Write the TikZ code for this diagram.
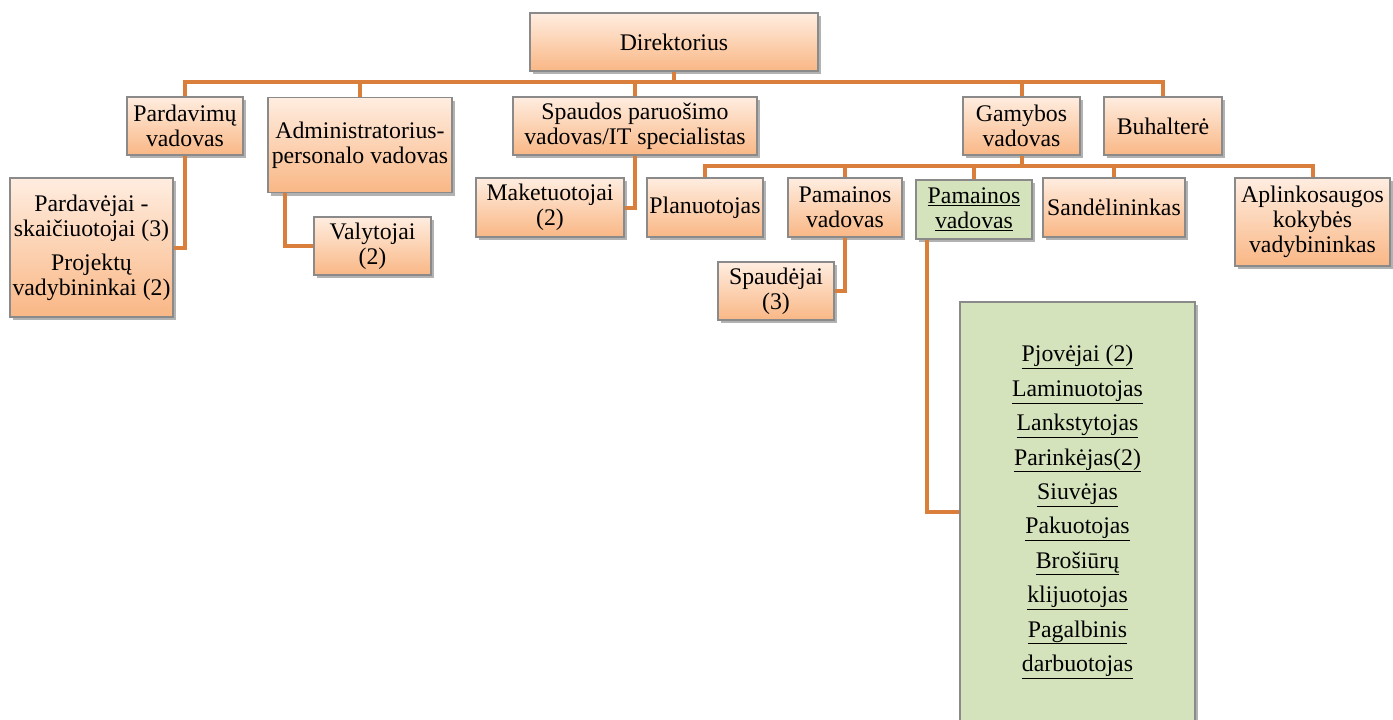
\documentclass[tikz,border=0pt]{standalone}
\usepackage{fontspec}
\setmainfont{Liberation Serif}
\usepackage{tikz}
\usetikzlibrary{shadows}
\usepackage{xcolor}

\definecolor{oTop}{HTML}{FFEDE0}
\definecolor{oBot}{HTML}{F9B785}
\definecolor{gFill}{HTML}{D5E3BC}
\definecolor{lineOr}{HTML}{DA7F3B}
\definecolor{frameGr}{HTML}{8A8A8A}

\begin{document}
\begin{tikzpicture}[x=1pt, y=-1pt]
        % ================= styles =================
        \tikzset{
            % orange box
            obox/.style={draw=frameGr, line width=1.2pt, top color=oTop, bottom color=oBot, align=center, inner sep=1pt,
                font=\fontsize{23.8}{25}\selectfont,
                drop shadow={shadow xshift=3pt, shadow yshift=-3pt, opacity=0.3, fill=black}},
            % green box
            gbox/.style={obox, top color=gFill, bottom color=gFill},
            % connector
            link/.style={line width=4pt, lineOr}
        }
        \useasboundingbox (0,0) rectangle (1393,720);
        \clip (0,0) rectangle (1393,720);

        % ================= top level =================
        \node[obox, minimum width=288pt, minimum height=58pt] (dir) at (674,42) {Direktorius};

        \node[obox, minimum width=116pt, minimum height=58pt] (pard) at (185,126) {Pardavimų\\vadovas};
        \node[obox, minimum width=184pt, minimum height=95pt] (adm) at (360,145) {Administratorius-\\personalo vadovas};
        \node[obox, minimum width=244pt, minimum height=58pt] (spa) at (635,126) {Spaudos paruošimo\\vadovas/IT specialistas};
        \node[obox, minimum width=117pt, minimum height=58pt] (gam) at (1021.5,126) {Gamybos\\vadovas};
        \node[obox, minimum width=118pt, minimum height=58pt] (buh) at (1163,126) {Buhalterė};

        % ================= children =================
        \node[obox, minimum width=163pt, minimum height=139pt] (pdv) at (91.5,247.5) {Pardavėjai -\\skaičiuotojai (3)\\[9pt]Projektų\\vadybininkai (2)};
        \node[obox, minimum width=117pt, minimum height=58pt] (val) at (372.5,246) {Valytojai\\(2)};
        \node[obox, minimum width=148pt, minimum height=59pt] (mak) at (550,207.5) {Maketuotojai\\(2)};

        % under Gamybos vadovas
        \node[obox, minimum width=116pt, minimum height=59pt] (plan) at (705,207.5) {Planuotojas};
        \node[obox, minimum width=114pt, minimum height=59pt] (pam1) at (845,207.5) {Pamainos\\vadovas};
        \node[gbox, minimum width=116pt, minimum height=59pt] (pam2) at (974,209.5) {\underline{Pamainos}\\\underline{vadovas}};
        \node[obox, minimum width=142pt, minimum height=59pt] (sand) at (1114,207.5) {Sandėlininkas};
        \node[obox, minimum width=155pt, minimum height=88pt] (apl) at (1312.5,222) {Aplinkosaugos\\kokybės\\vadybininkas};
        \node[obox, minimum width=116pt, minimum height=58pt] (spd) at (776,291) {Spaudėjai\\(3)};

        % workers of the shift
        \node[gbox, font=\fontsize{23.8}{34.4}\selectfont, minimum width=235pt, minimum height=420pt] (brig) at (1077.5,512)
            {\underline{Pjovėjai (2)}\\\underline{Laminuotojas}\\\underline{Lankstytojas}\\\underline{Parinkėjas(2)}\\\underline{Siuvėjas}\\
             \underline{Pakuotojas}\\\underline{Brošiūrų}\\\underline{klijuotojas}\\\underline{Pagalbinis}\\\underline{darbuotojas}};

        % ================= connectors =================
        \coordinate (busT) at (674,82);
        \coordinate (busG) at (1021.5,166);

        \draw[link] (dir.south) -- (busT);
        \draw[link] (pard.north) -- (pard.north |- busT) -| (buh.north);
        \draw[link] (adm.north) -- (adm.north |- busT);
        \draw[link] (spa.north) -- (spa.north |- busT);
        \draw[link] (gam.north) -- (gam.north |- busT);

        \draw[link] (gam.south) -- (busG);
        \draw[link] (plan.north) -- (plan.north |- busG) -| (apl.north);
        \draw[link] (pam1.north) -- (pam1.north |- busG);
        \draw[link] (pam2.north) -- (pam2.north |- busG);
        \draw[link] (sand.north) -- (sand.north |- busG);

        % side branches
        \draw[link] (pard.south) |- (pdv.east);
        \draw[link] ([xshift=18pt]adm.south west) |- (val.west);
        \draw[link] (spa.south) |- (mak.east);
        \draw[link] (pam1.south) |- (spd.east);
        \draw[link] ([xshift=12pt]pam2.south west) |- (brig.west);

\end{tikzpicture}
\end{document}
